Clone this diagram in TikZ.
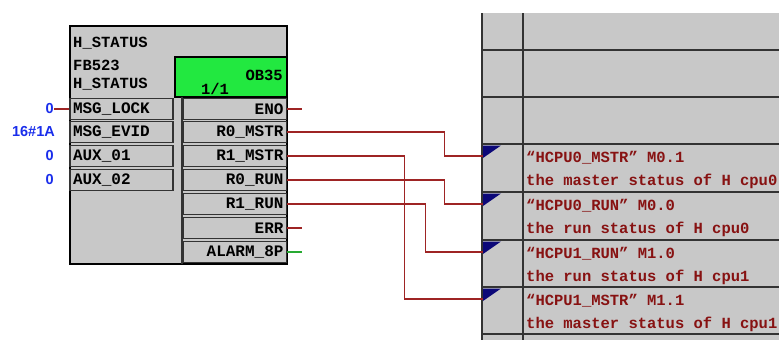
\documentclass[tikz,border=0pt]{standalone}
\usepackage{fontspec}
\newfontfamily\plcfont{Liberation Mono}
\newfontfamily\constfont{Liberation Sans}
\usetikzlibrary{positioning}
\definecolor{plcgray}{RGB}{200,200,200}
\definecolor{obgreen}{RGB}{34,232,64}
\definecolor{wirered}{RGB}{158,36,36}
\definecolor{wiregreen}{RGB}{40,170,50}
\definecolor{tagred}{RGB}{135,18,18}
\definecolor{constblue}{RGB}{25,45,235}
\definecolor{flagblue}{RGB}{12,8,120}
\tikzset{
  pinbox/.style={draw=black!80, line width=1.3pt, fill=plcgray, minimum height=21pt,
    text width=97pt, inner xsep=3pt, inner ysep=0pt, font=\plcfont\bfseries\fontsize{16}{16}\selectfont},
  inpin/.style={pinbox, align=left},
  outpin/.style={pinbox, align=right},
  wire/.style={wirered, line width=1.2pt},
  constval/.style={text=constblue, anchor=east, inner sep=0pt, font=\constfont\bfseries\fontsize{14.5}{14.5}\selectfont},
  tagtext/.style={text=tagred, anchor=base west, inner sep=0pt, font=\plcfont\bfseries\fontsize{15.5}{15.5}\selectfont},
  hdrtext/.style={anchor=base west, inner sep=0pt, font=\plcfont\bfseries\fontsize{15.5}{15.5}\selectfont},
  gridline/.style={black!80, line width=1.3pt}
}
\begin{document}
\begin{tikzpicture}[x=1pt, y=-1pt]
  \useasboundingbox (0,0) rectangle (779,340);
  % function block H_STATUS
  \node[draw=black, line width=1.8pt, fill=plcgray, minimum width=217pt, minimum height=238pt, inner sep=0pt] (hstatus) at (178.5,145) {};
  \node[hdrtext] (fbname) at (73,47) {H\_STATUS};
  \node[hdrtext] (fbnum) at (73,70) {FB523};
  \node[hdrtext] (fbinst) at (73,88) {H\_STATUS};
  \node[draw=black, line width=1.3pt, fill=obgreen, minimum width=112pt, minimum height=40pt, inner sep=0pt] (obcall) at (231,77) {};
  \node[hdrtext, anchor=base east] (obname) at (283,80) {OB35};
  \node[hdrtext, anchor=base] (obstep) at (215,94) {1/1};
  \draw[gridline] (182,97) -- (182,264);
  \foreach \y/\name/\txt in {109/msglock/MSG\_LOCK, 132/msgevid/MSG\_EVID, 156/auxa/AUX\_01, 180/auxb/AUX\_02}
    \node[inpin] (\name) at (121.5,\y) {\txt};
  \foreach \y/\name/\txt in {109/eno/ENO, 132/r0mstr/R0\_MSTR, 156/r1mstr/R1\_MSTR, 180/r0run/R0\_RUN, 204/r1run/R1\_RUN, 228/err/ERR, 252/alarm/ALARM\_8P}
    \node[outpin] (\name) at (235,\y) {\txt};
  % input constants
  \node[constval] (lockval) at (54,109) {0};
  \node[constval] (evidval) at (55,132) {16\#1A};
  \node[constval] (auxaval) at (54,156) {0};
  \node[constval] (auxbval) at (54,180) {0};
  \draw[wire] (lockval.east) -- (msglock.west);
  % open outputs
  \coordinate (enoend) at (302,109);
  \coordinate (errend) at (302,228);
  \coordinate (alarmend) at (302,252);
  \draw[wire] (eno.east) -- (enoend);
  \draw[wire] (err.east) -- (errend);
  \draw[wiregreen, line width=1.2pt] (alarm.east) -- (alarmend);
  % symbol table column
  \fill[plcgray] (481,13) rectangle (779,340);
  \draw[gridline] (482,13) -- (482,340);
  \draw[gridline] (523,13) -- (523,340);
  \foreach \y in {50,97,144,192,240,287,334}
    \draw[gridline] (482,\y) -- (779,\y);
  \foreach \rowy/\id/\sym/\addr/\cmt in {144/a/HCPU0\_MSTR/M0.1/the master status of H cpu0, 192/b/HCPU0\_RUN/M0.0/the run status of H cpu0, 240/c/HCPU1\_RUN/M1.0/the run status of H cpu1, 287/d/HCPU1\_MSTR/M1.1/the master status of H cpu1}{
    \coordinate (flag\id) at (483,\rowy+12);
    \fill[flagblue] (483,\rowy+1.5) -- (501,\rowy+1.5) -- (483,\rowy+14) -- cycle;
    \node[tagtext] (sym\id) at (526,\rowy+18) {“\sym” \addr};
    \node[tagtext] (cmt\id) at (526,\rowy+41) {\cmt};
  }
  % connections
  \draw[wire] (r0mstr.east) -- ++(157,0) |- (flaga);
  \draw[wire] (r1mstr.east) -- ++(117,0) |- (flagd);
  \draw[wire] (r0run.east) -- ++(157,0) |- (flagb);
  \draw[wire] (r1run.east) -- ++(138,0) |- (flagc);
\end{tikzpicture}
\end{document}
